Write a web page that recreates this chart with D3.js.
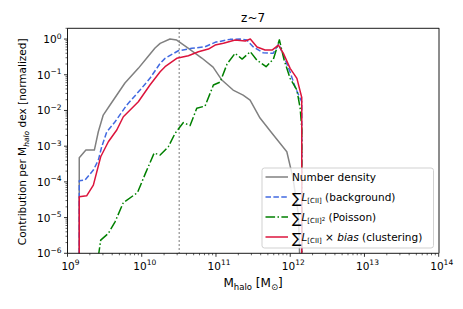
<!DOCTYPE html>
<html><head><meta charset="utf-8">
<script src="https://cdn.jsdelivr.net/npm/d3@7"></script>
<style>body{margin:0;background:#fff}svg{font-family:"DejaVu Sans",sans-serif}</style>
</head><body><svg id="c" width="463" height="309"></svg>
<script>
// ---- data (halo mass [Msun], normalized contribution) ----
const numMass = [1.44e9,1.44e9,1.77e9,2.30e9,2.60e9,3.03e9,3.74e9,5.94e9,8.99e9,1.17e10,1.51e10,1.77e10,2.40e10,2.96e10,4.21e10,6.44e10,9.14e10,1.20e11,1.70e11,2.32e11,2.88e11,3.92e11,5.65e11,9.0e11,1.09e12,1.29e12,1.43e12];
const numVal  = [1e-8,4.73e-4,7.78e-4,7.78e-4,2.53e-3,7.43e-3,1.42e-2,5.86e-2,0.151,0.294,0.560,0.758,1.0,0.937,0.560,0.294,0.164,0.0711,0.0373,0.027,0.0196,6.12e-3,2.33e-3,6.97e-4,1.28e-4,1.2e-5,1e-8];

const bgMass = [1.44e9,1.44e9,1.72e9,2.23e9,2.60e9,2.89e9,3.37e9,4.37e9,6.28e9,9.49e9,1.29e10,1.77e10,2.06e10,3.11e10,4.72e10,7.13e10,9.73e10,1.55e11,2.11e11,2.60e11,3.16e11,4.31e11,5.88e11,6.98e11,8.09e11,9.97e11,1.16e12,1.33e12,1.43e12,1.43e12];
const bgVal  = [1e-8,1.07e-4,1.12e-4,2.14e-4,4.08e-4,9.62e-4,2.48e-3,4.82e-3,1.42e-2,3.73e-2,7.93e-2,0.209,0.288,0.470,0.549,0.608,0.809,0.98,1.0,0.937,0.608,0.413,0.398,0.724,0.356,0.119,0.0461,0.0242,0.0175,1e-8];

const poisMass = [2.60e9,2.80e9,3.55e9,4.37e9,5.65e9,8.77e9,1.11e10,1.47e10,1.77e10,2.28e10,2.81e10,3.64e10,4.48e10,5.51e10,7.13e10,9.23e10,1.14e11,1.41e11,1.81e11,2.25e11,2.90e11,3.55e11,4.73e11,5.94e11,7.15e11,8.28e11,9.97e11,1.23e12,1.36e12,1.43e12,1.43e12];
const poisVal  = [8e-7,2.34e-6,3.61e-6,7.62e-6,2.63e-5,5.01e-5,1.65e-4,6.41e-4,5.63e-4,9.62e-4,2.28e-3,4.58e-3,3.77e-3,1.15e-2,1.33e-2,5.15e-2,6.25e-2,0.2,0.398,0.275,0.441,0.258,0.168,0.275,0.95,0.258,7.93e-2,3.73e-2,1.17e-2,3.21e-3,1e-8];

const clusMass = [1.44e9,1.44e9,1.81e9,2.23e9,2.80e9,3.55e9,4.61e9,5.65e9,9.0e9,1.29e10,1.77e10,2.06e10,2.96e10,4.25e10,5.80e10,7.91e10,9.73e10,1.26e11,1.81e11,2.48e11,2.90e11,3.57e11,4.58e11,5.70e11,6.93e11,8.09e11,9.97e11,1.23e12,1.43e12,1.43e12];
const clusVal  = [1e-8,3.83e-5,4.08e-5,8.13e-5,5.05e-4,1.33e-3,2.83e-3,6.66e-3,1.75e-2,5.15e-2,0.121,0.168,0.288,0.340,0.441,0.525,0.679,0.758,0.937,0.879,1.0,0.597,0.492,0.492,0.679,0.398,0.151,7.93e-2,0.023,1e-8];

const vlineMass = 3.2e10;
const xTickExp = [9,10,11,12,13,14];
const yTickExp = [0,-1,-2,-3,-4,-5,-6];
const titleText = "z~7";

// ---- layout ----
const svg = d3.select("#c");
const L = 67.5, R = 438.7, T = 28.3, B = 253.3;
const x = d3.scaleLog().domain([1e9,1e14]).range([L,R]);
const y = d3.scaleLog().domain([1e-6,2]).range([B,T]);

svg.append("defs").append("clipPath").attr("id","clip")
  .append("rect").attr("x",L).attr("y",T).attr("width",R-L).attr("height",B-T);

const g = svg.append("g").attr("clip-path","url(#clip)");
const line = d3.line().x(d=>x(d[0])).y(d=>y(d[1]));
function series(m,v){return m.map((d,i)=>[d,v[i]]);}

g.append("line").attr("x1",x(vlineMass)).attr("x2",x(vlineMass)).attr("y1",T).attr("y2",B)
  .attr("stroke","#888").attr("stroke-width",1.5).attr("stroke-dasharray","1.5,2.5");

const S = [
  {m:numMass,v:numVal,c:"#808080",d:null},
  {m:bgMass,v:bgVal,c:"#4169e1",d:"5.5,2.4"},
  {m:poisMass,v:poisVal,c:"#008000",d:"9.6,2.4,1.5,2.4"},
  {m:clusMass,v:clusVal,c:"#dc143c",d:null}
];
S.forEach(s=>{
  g.append("path").attr("d",line(series(s.m,s.v))).attr("fill","none")
   .attr("stroke",s.c).attr("stroke-width",1.5).attr("stroke-dasharray",s.d)
   .attr("stroke-linejoin","round");
});

// ---- axes ----
const ax = svg.append("g");
ax.append("line").attr("x1",L).attr("x2",L).attr("y1",T).attr("y2",B).attr("stroke","#000").attr("stroke-width",0.9);
ax.append("line").attr("x1",L).attr("x2",R).attr("y1",B).attr("y2",B).attr("stroke","#000").attr("stroke-width",0.9);
ax.append("line").attr("x1",L).attr("x2",R+0.5).attr("y1",T).attr("y2",T).attr("stroke","#000").attr("stroke-width",0.9);
ax.append("line").attr("x1",R+0.3).attr("x2",R+0.3).attr("y1",T).attr("y2",B).attr("stroke","#000").attr("stroke-width",0.9);

function supLabel(sel, exp, xx, yy, anchor){
  const t = sel.append("text").attr("x",xx).attr("y",yy).attr("text-anchor",anchor)
    .attr("font-size","10.5px").attr("fill","#000");
  t.append("tspan").text("10");
  t.append("tspan").attr("dy",-4.5).attr("font-size","7.5px").text(exp<0?"\u2212"+(-exp):String(exp));
  return t;
}
// x ticks
for(let e=9;e<14;e++){for(let k=2;k<10;k++){const px=x(k*Math.pow(10,e));
  ax.append("line").attr("x1",px).attr("x2",px).attr("y1",B).attr("y2",B+2).attr("stroke","#000").attr("stroke-width",0.6);}}
xTickExp.forEach(e=>{const px=x(Math.pow(10,e));
  ax.append("line").attr("x1",px).attr("x2",px).attr("y1",B).attr("y2",B+3.5).attr("stroke","#000").attr("stroke-width",0.8);
  supLabel(ax,e,px+3,B+16.5,"middle");
});
// y ticks
for(let e=-6;e<1;e++){for(let k=2;k<10;k++){const v=k*Math.pow(10,e); if(v>2) continue; const py=y(v);
  ax.append("line").attr("x1",L-2).attr("x2",L).attr("y1",py).attr("y2",py).attr("stroke","#000").attr("stroke-width",0.6);}}
yTickExp.forEach(e=>{const py=y(Math.pow(10,e));
  ax.append("line").attr("x1",L-3.5).attr("x2",L).attr("y1",py).attr("y2",py).attr("stroke","#000").attr("stroke-width",0.8);
  const t=ax.append("text").attr("x",L-6).attr("y",py+4).attr("text-anchor","end").attr("font-size","10.5px");
  t.append("tspan").text("10");
  t.append("tspan").attr("dy",-4.5).attr("font-size","7.5px").text(e<0?"\u2212"+(-e):String(e));
});

// title
svg.append("text").attr("x",(L+R)/2).attr("y",21.5).attr("text-anchor","middle").attr("font-size","12px").text(titleText);

// x label
const xl = svg.append("text").attr("x",(L+R)/2).attr("y",287).attr("text-anchor","middle").attr("font-size","12px");
xl.append("tspan").text("M");
xl.append("tspan").attr("dy",2.8).attr("font-size","8.5px").text("halo");
xl.append("tspan").attr("dy",-2.8).text(" [M");
xl.append("tspan").attr("dy",2.8).attr("font-size","8.5px").text("\u2299");
xl.append("tspan").attr("dy",-2.8).text("]");

// y label
const yl = svg.append("text").attr("transform","translate(26,"+((T+B)/2+1)+") rotate(-90)")
  .attr("text-anchor","middle").attr("font-size","10.5px");
yl.append("tspan").text("Contribution per M");
yl.append("tspan").attr("dy",2.5).attr("font-size","7.5px").attr("font-style","italic").text("halo");
yl.append("tspan").attr("dy",-2.5).text(" dex [normalized]");

// legend
const lg = svg.append("g");
lg.append("rect").attr("x",262).attr("y",168).attr("width",171.5).attr("height",80).attr("rx",2.5)
  .attr("fill","#fff").attr("fill-opacity",0.8).attr("stroke","#ccc").attr("stroke-width",0.9);
const entries = [
  {c:"#808080",d:null,parts:[["Number density",{}]]},
  {c:"#4169e1",d:"5.5,2.4",parts:[["L",{it:1}],["[CII]",{sub:1}],[" (background)",{}]]},
  {c:"#008000",d:"9.6,2.4,1.5,2.4",parts:[["L",{it:1}],["[CII]",{sub:1}],["2",{subsup:1}],[" (Poisson)",{}]]},
  {c:"#dc143c",d:null,parts:[["L",{it:1}],["[CII]",{sub:1}],[" \u00d7 ",{}],["bias",{it:1}],[" (clustering)",{}]]}
];
entries.forEach((e,i)=>{
  const yy = 177+i*20;
  lg.append("line").attr("x1",265.5).attr("x2",288).attr("y1",yy).attr("y2",yy)
    .attr("stroke",e.c).attr("stroke-width",1.5).attr("stroke-dasharray",e.d);
  const t = lg.append("text").attr("x",292).attr("y",yy+4).attr("font-size","10.5px");
  if(i>0){ t.append("tspan").attr("font-size","14px").attr("dy",1.5).text("\u2211"); }
  let cur = (i>0)?1.5:0;
  e.parts.forEach(p=>{
    const s=t.append("tspan").text(p[0]);
    let target=0;
    if(p[1].it) s.attr("font-style","italic");
    if(p[1].sub){ s.attr("font-size","7px"); target=2; }
    if(p[1].subsup){ s.attr("font-size","5.5px"); target=-0.5; }
    s.attr("dy",target-cur); cur=target;
  });
});
</script></body></html>
